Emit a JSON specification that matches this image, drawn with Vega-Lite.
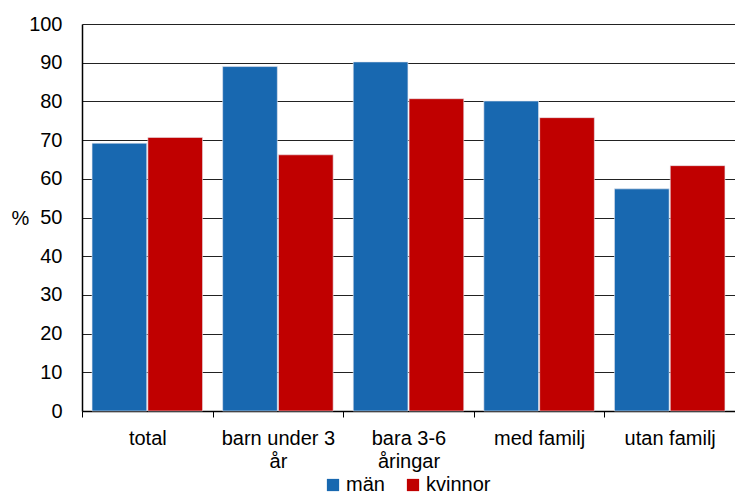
{
  "$schema": "https://vega.github.io/schema/vega-lite/v6.json",
  "width": 653,
  "height": 387,
  "autosize": {"type": "none"},
  "padding": {"left": 82, "top": 24, "right": 0, "bottom": 85},
  "background": "white",
  "config": {
    "view": {"stroke": null},
    "font": "Liberation Sans",
    "axis": {"labelFont": "Liberation Sans", "labelFontSize": 20, "labelColor": "#000", "titleColor": "#000", "domainColor": "#000", "tickColor": "#000", "gridColor": "#222", "gridWidth": 1}
  },
  "data": {
    "values": [
      {"grupp": "total", "kön": "män", "procent": 69.2},
      {"grupp": "total", "kön": "kvinnor", "procent": 70.7},
      {"grupp": "barn under 3 år", "kön": "män", "procent": 89.0},
      {"grupp": "barn under 3 år", "kön": "kvinnor", "procent": 66.2},
      {"grupp": "bara 3-6 åringar", "kön": "män", "procent": 90.2},
      {"grupp": "bara 3-6 åringar", "kön": "kvinnor", "procent": 80.7},
      {"grupp": "med familj", "kön": "män", "procent": 80.1},
      {"grupp": "med familj", "kön": "kvinnor", "procent": 75.8},
      {"grupp": "utan familj", "kön": "män", "procent": 57.4},
      {"grupp": "utan familj", "kön": "kvinnor", "procent": 63.4}
    ]
  },
  "mark": {"type": "bar", "stroke": "#e8e8f0", "strokeWidth": 0.6},
  "encoding": {
    "x": {
      "field": "grupp",
      "type": "nominal",
      "sort": ["total", "barn under 3 år", "bara 3-6 åringar", "med familj", "utan familj"],
      "scale": {"paddingInner": 0, "paddingOuter": 0},
      "axis": {
        "title": null,
        "labelAngle": 0,
        "tickBand": "extent",
        "tickSize": 6,
        "labelPadding": 11,
        "labelLineHeight": 23,
        "labelBaseline": "top",
        "labelExpr": "datum.label == 'barn under 3 år' ? ['barn under 3', 'år'] : datum.label == 'bara 3-6 åringar' ? ['bara 3-6', 'åringar'] : datum.label",
        "grid": false,
        "domainWidth": 1.5
      }
    },
    "xOffset": {
      "field": "kön",
      "type": "nominal",
      "sort": ["män", "kvinnor"],
      "scale": {"paddingInner": 0.02, "paddingOuter": 0.18}
    },
    "y": {
      "field": "procent",
      "type": "quantitative",
      "scale": {"domain": [0, 100], "nice": false},
      "axis": {
        "title": "%",
        "titleAngle": 0,
        "titleFontSize": 20,
        "titleFont": "Liberation Sans",
        "titleFontWeight": "normal",
        "titleX": -71,
        "titleY": 194,
        "titleAlign": "left",
        "titleBaseline": "middle",
        "values": [0, 10, 20, 30, 40, 50, 60, 70, 80, 90, 100],
        "ticks": false,
        "labelPadding": 20,
        "grid": true,
        "domainWidth": 1.5
      }
    },
    "color": {
      "field": "kön",
      "type": "nominal",
      "sort": ["män", "kvinnor"],
      "scale": {"domain": ["män", "kvinnor"], "range": ["#1868B0", "#C00000"]},
      "legend": {
        "title": null,
        "orient": "none",
        "direction": "horizontal",
        "legendX": 241,
        "legendY": 451,
        "padding": 0,
        "symbolType": "square",
        "symbolSize": 150,
        "symbolStrokeWidth": 0,
        "labelFontSize": 20,
        "labelFont": "Liberation Sans",
        "labelColor": "#000",
        "labelOffset": 3,
        "columnPadding": 18
      }
    }
  }
}
